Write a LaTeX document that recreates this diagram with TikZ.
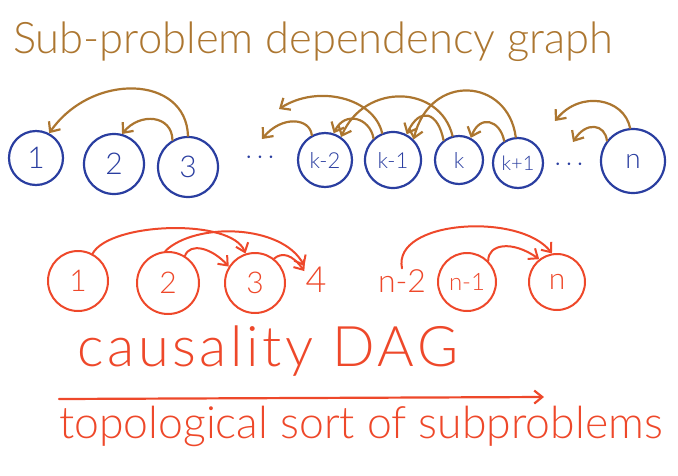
\documentclass[tikz,border=0pt]{standalone}
\usepackage{fontspec}
\setmainfont{Lato}[UprightFont=* Light]
\usetikzlibrary{arrows.meta}
\definecolor{inkbrown}{RGB}{172,118,48}
\definecolor{inkblue}{RGB}{42,62,160}
\definecolor{inkred}{RGB}{238,72,42}
\begin{document}
\begin{tikzpicture}[x=1pt,y=-1pt,
  bcirc/.style={circle,draw=inkblue,line width=2.2pt,inner sep=0pt,text=inkblue,font=\fontsize{30}{30}\selectfont},
  bsmall/.style={bcirc,font=\fontsize{22}{22}\selectfont},
  rcirc/.style={circle,draw=inkred,line width=2pt,inner sep=0pt,text=inkred,font=\fontsize{30}{30}\selectfont},
  rtext/.style={text=inkred,inner sep=1pt,font=\fontsize{36}{36}\selectfont},
  bdots/.style={text=inkblue,font=\fontsize{26}{26}\selectfont},
  barrow/.style={draw=inkbrown,line width=2.2pt,line cap=round,-{Straight Barb[length=8pt,width=14pt]}},
  rarrow/.style={draw=inkred,line width=2pt,line cap=round,-{Straight Barb[length=8pt,width=13pt]}}]
\useasboundingbox (0,0) rectangle (678,475);

% title
\node[anchor=base west,inner sep=0pt,text=inkbrown,font=\fontsize{43.5}{43.5}\selectfont] (title) at (13,53) {Sub-problem dependency graph};

% top row
\node[bcirc,minimum size=54pt] (c1) at (36,158) {1};
\node[bcirc,minimum size=60pt] (c2) at (114,164) {2};
\node[bcirc,minimum size=60pt] (c3) at (188,167) {3};
\node[bdots] (d1) at (260,158) {$\cdots$};
\node[bsmall,minimum size=54pt] (km2) at (325,160) {k-2};
\node[bsmall,minimum size=56pt] (km1) at (393,160) {k-1};
\node[bsmall,minimum size=48pt] (kk) at (459,160) {k};
\node[bsmall,minimum size=50pt,font=\fontsize{20}{20}\selectfont] (kp1) at (518,163) {k+1};
\node[bdots] (d2) at (569,165) {$\cdots$};
\node[bcirc,minimum size=64pt,font=\fontsize{28}{28}\selectfont] (nn) at (633,161) {n};

\coordinate (fa) at (262,139);
\coordinate (fb) at (279,109);
\coordinate (fc) at (555,121);
\coordinate (fd) at (573,142);

\draw[barrow] (c3.90) .. controls (186,75) and (92,72) .. (c1.62);
\draw[barrow] (c3.120) .. controls (172,115) and (140,112) .. (c2.75);
\draw[barrow] (km2.118) .. controls (310,118) and (282,115) .. (fa);
\draw[barrow] (km1.112) .. controls (374,98) and (318,84) .. (fb);
\draw[barrow] (km1.132) .. controls (370,118) and (345,110) .. (km2.72);
\draw[barrow] (kk.105) .. controls (440,85) and (365,82) .. (km2.55);
\draw[barrow] (kk.128) .. controls (438,112) and (420,106) .. (km1.62);
\draw[barrow] (kp1.95) .. controls (508,78) and (430,72) .. (km1.45);
\draw[barrow] (kp1.122) .. controls (500,120) and (480,114) .. (kk.62);
\draw[barrow] (nn.95) .. controls (624,98) and (580,90) .. (fc);
\draw[barrow] (nn.142) .. controls (605,124) and (586,121) .. (fd);

% causality DAG row
\node[rcirc,minimum size=60pt] (r1) at (78,281) {1};
\node[rcirc,minimum size=62pt] (r2) at (168,283) {2};
\node[rcirc,minimum size=60pt] (r3) at (255,283) {3};
\node[rtext] (f4) at (316,280) {4};
\node[rtext,font=\fontsize{32}{32}\selectfont] (fn2) at (402,281) {n-2};
\node[rcirc,minimum size=58pt,font=\fontsize{24}{24}\selectfont] (rn1) at (467,282) {n-1};
\node[rcirc,minimum size=56pt] (rn) at (557,282) {n};

\draw[rarrow] (r1.62) .. controls (110,222) and (232,218) .. (r3.108);
\draw[rarrow] (r2.95) .. controls (195,222) and (282,224) .. (f4.north west);
\draw[rarrow] (r2.58) .. controls (190,242) and (212,248) .. (r3.148);
\draw[rarrow] (r3.52) .. controls (282,252) and (292,254) .. ([yshift=-5pt]f4.north west);
\draw[rarrow] (fn2.north) .. controls (392,220) and (520,212) .. (rn.100);
\draw[rarrow] (rn1.45) .. controls (488,244) and (512,240) .. (rn.128);

\node[anchor=base west,inner sep=0pt,text=inkred,font=\fontsize{56}{56}\selectfont\addfontfeatures{LetterSpace=6.5}] (caus) at (77,366) {causality DAG};
\coordinate (as) at (59,399);
\coordinate (ae) at (544,397);
\draw[rarrow,line width=2.2pt] (as) -- (ae);
\node[anchor=base west,inner sep=0pt,text=inkred,font=\fontsize{44.5}{44.5}\selectfont] (topo) at (59,438) {topological sort of subproblems};
\end{tikzpicture}
\end{document}
